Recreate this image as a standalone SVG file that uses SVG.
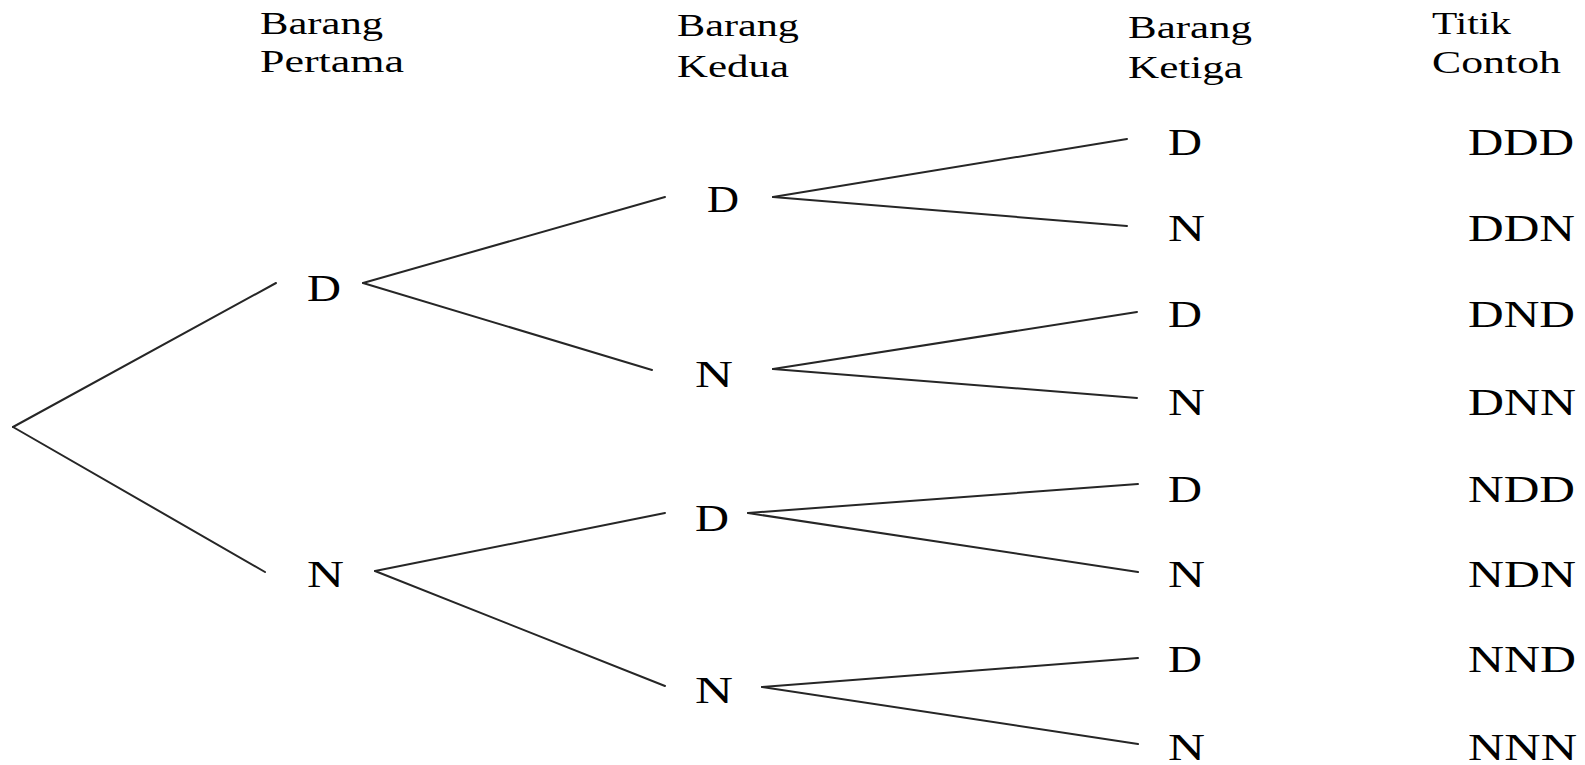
<svg xmlns="http://www.w3.org/2000/svg" width="1585" height="765" viewBox="0 0 1585 765">
<style>
.h{font-family:"Liberation Serif","Times New Roman",serif;font-size:31px;fill:#000}
.n{font-family:"Liberation Serif","Times New Roman",serif;font-size:38px;fill:#000}
.e line{stroke:#262626;stroke-width:2;stroke-linecap:round}
</style>
<rect width="1585" height="765" fill="#fff"/>
<g id="headers">
<text class="h" x="260" y="34" textLength="123" lengthAdjust="spacingAndGlyphs">Barang</text>
<text class="h" x="260" y="72" textLength="144" lengthAdjust="spacingAndGlyphs">Pertama</text>
<text class="h" x="677" y="36" textLength="122" lengthAdjust="spacingAndGlyphs">Barang</text>
<text class="h" x="677" y="77" textLength="112" lengthAdjust="spacingAndGlyphs">Kedua</text>
<text class="h" x="1128" y="38" textLength="124" lengthAdjust="spacingAndGlyphs">Barang</text>
<text class="h" x="1128" y="78" textLength="115" lengthAdjust="spacingAndGlyphs">Ketiga</text>
<text class="h" x="1432" y="34" textLength="79" lengthAdjust="spacingAndGlyphs">Titik</text>
<text class="h" x="1432" y="73" textLength="129" lengthAdjust="spacingAndGlyphs">Contoh</text>
</g>
<g class="e" id="connectors">
<line x1="13" y1="427" x2="276" y2="283"/>
<line x1="13" y1="427" x2="265" y2="572"/>
<line x1="363" y1="283" x2="665" y2="197"/>
<line x1="363" y1="283" x2="652" y2="370"/>
<line x1="375" y1="571" x2="665" y2="513"/>
<line x1="375" y1="571" x2="665" y2="686"/>
<line x1="773" y1="197" x2="1127" y2="139"/>
<line x1="773" y1="197" x2="1127" y2="226"/>
<line x1="773" y1="369" x2="1137" y2="312"/>
<line x1="773" y1="369" x2="1137" y2="398"/>
<line x1="748" y1="513" x2="1138" y2="484"/>
<line x1="748" y1="513" x2="1138" y2="572"/>
<line x1="762" y1="687" x2="1138" y2="658"/>
<line x1="762" y1="687" x2="1138" y2="744"/>
</g>
<g id="level1-D"><text class="n" x="307" y="301" textLength="34" lengthAdjust="spacingAndGlyphs">D</text></g>
<g id="level1-N"><text class="n" x="307" y="587" textLength="37" lengthAdjust="spacingAndGlyphs">N</text></g>
<g id="level2-DD"><text class="n" x="707" y="212" textLength="32" lengthAdjust="spacingAndGlyphs">D</text></g>
<g id="level2-DN"><text class="n" x="695" y="387" textLength="38" lengthAdjust="spacingAndGlyphs">N</text></g>
<g id="level2-ND"><text class="n" x="695" y="531" textLength="34" lengthAdjust="spacingAndGlyphs">D</text></g>
<g id="level2-NN"><text class="n" x="695" y="703" textLength="38" lengthAdjust="spacingAndGlyphs">N</text></g>
<g id="level3-DDD"><text class="n" x="1168" y="155" textLength="34" lengthAdjust="spacingAndGlyphs">D</text></g>
<g id="level3-DDN"><text class="n" x="1168" y="241" textLength="37" lengthAdjust="spacingAndGlyphs">N</text></g>
<g id="level3-DND"><text class="n" x="1168" y="327" textLength="34" lengthAdjust="spacingAndGlyphs">D</text></g>
<g id="level3-DNN"><text class="n" x="1168" y="415" textLength="37" lengthAdjust="spacingAndGlyphs">N</text></g>
<g id="level3-NDD"><text class="n" x="1168" y="502" textLength="34" lengthAdjust="spacingAndGlyphs">D</text></g>
<g id="level3-NDN"><text class="n" x="1168" y="587" textLength="37" lengthAdjust="spacingAndGlyphs">N</text></g>
<g id="level3-NND"><text class="n" x="1168" y="672" textLength="34" lengthAdjust="spacingAndGlyphs">D</text></g>
<g id="level3-NNN"><text class="n" x="1168" y="760" textLength="37" lengthAdjust="spacingAndGlyphs">N</text></g>
<g id="samples">
<text class="n" x="1468" y="155" textLength="106" lengthAdjust="spacingAndGlyphs">DDD</text>
<text class="n" x="1468" y="241" textLength="107" lengthAdjust="spacingAndGlyphs">DDN</text>
<text class="n" x="1468" y="327" textLength="107" lengthAdjust="spacingAndGlyphs">DND</text>
<text class="n" x="1468" y="415" textLength="108" lengthAdjust="spacingAndGlyphs">DNN</text>
<text class="n" x="1468" y="502" textLength="107" lengthAdjust="spacingAndGlyphs">NDD</text>
<text class="n" x="1468" y="587" textLength="108" lengthAdjust="spacingAndGlyphs">NDN</text>
<text class="n" x="1468" y="672" textLength="108" lengthAdjust="spacingAndGlyphs">NND</text>
<text class="n" x="1468" y="760" textLength="109" lengthAdjust="spacingAndGlyphs">NNN</text>
</g>
</svg>
